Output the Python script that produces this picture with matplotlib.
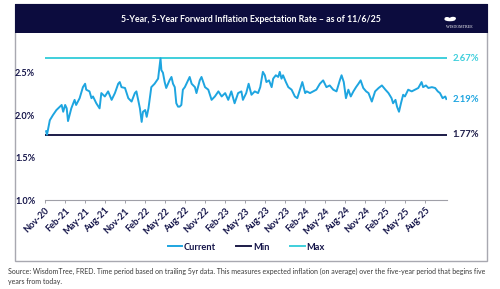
import matplotlib
matplotlib.use("Agg")
import matplotlib.pyplot as plt
from matplotlib.patches import Rectangle, Ellipse
import pandas as pd

plt.rcParams['font.family'] = ['Lato', 'DejaVu Sans']

dates = [
    "2020-11-06", "2020-11-10", "2020-11-14", "2020-11-23", "2020-12-07", "2020-12-23",
    "2021-01-08", "2021-01-16", "2021-01-23", "2021-02-01", "2021-02-08", "2021-02-14",
    "2021-03-01", "2021-03-16", "2021-03-23", "2021-04-08", "2021-04-23", "2021-05-03",
    "2021-05-08", "2021-05-23", "2021-06-01", "2021-06-08", "2021-06-23", "2021-07-08",
    "2021-07-16", "2021-08-01", "2021-08-16", "2021-09-01", "2021-09-16", "2021-10-01",
    "2021-10-08", "2021-10-16", "2021-11-01", "2021-11-16", "2021-12-01", "2021-12-16",
    "2021-12-23", "2022-01-08", "2022-01-16", "2022-01-22", "2022-02-01", "2022-02-08",
    "2022-02-16", "2022-03-01", "2022-03-16", "2022-04-01", "2022-04-12", "2022-04-16",
    "2022-04-23", "2022-05-01", "2022-05-08", "2022-05-23", "2022-06-01", "2022-06-08",
    "2022-06-16", "2022-06-23", "2022-07-01", "2022-07-08", "2022-07-16", "2022-07-23",
    "2022-08-01", "2022-08-16", "2022-08-23", "2022-09-01", "2022-09-16", "2022-09-23",
    "2022-10-08", "2022-10-16", "2022-11-01", "2022-11-16", "2022-12-01", "2022-12-16",
    "2023-01-01", "2023-01-16", "2023-02-01", "2023-02-15", "2023-03-01", "2023-03-16",
    "2023-04-01", "2023-04-16", "2023-04-23", "2023-05-08", "2023-05-19", "2023-06-01",
    "2023-06-16", "2023-07-01", "2023-07-11", "2023-07-23", "2023-08-01", "2023-08-08",
    "2023-08-20", "2023-09-01", "2023-09-08", "2023-09-20", "2023-10-01", "2023-10-08",
    "2023-10-16", "2023-10-23", "2023-11-05", "2023-11-16", "2023-12-01", "2023-12-16",
    "2023-12-27", "2024-01-08", "2024-01-19", "2024-02-01", "2024-02-08", "2024-02-23",
    "2024-03-08", "2024-03-23", "2024-04-08", "2024-04-23", "2024-05-08", "2024-05-23",
    "2024-06-08", "2024-06-23", "2024-07-08", "2024-07-16", "2024-07-26", "2024-08-05",
    "2024-08-16", "2024-08-27", "2024-09-08", "2024-09-20", "2024-10-01", "2024-10-11",
    "2024-10-23", "2024-11-05", "2024-11-16", "2024-12-01", "2024-12-16", "2025-01-01",
    "2025-01-16", "2025-02-01", "2025-02-15", "2025-03-01", "2025-03-08", "2025-03-19",
    "2025-03-26", "2025-04-04", "2025-04-13", "2025-04-23", "2025-05-01", "2025-05-16",
    "2025-06-01", "2025-06-16", "2025-07-01", "2025-07-16", "2025-07-23", "2025-08-05",
    "2025-08-16", "2025-09-01", "2025-09-16", "2025-09-28", "2025-10-08", "2025-10-20",
    "2025-11-01", "2025-11-06",
]
values = [
    1.81, 1.77, 1.82, 1.94, 2.00, 2.06,
    2.10, 2.12, 2.04, 2.12, 2.08, 1.93,
    2.08, 2.18, 2.12, 2.20, 2.33, 2.37,
    2.30, 2.28, 2.20, 2.22, 2.14, 2.08,
    2.26, 2.22, 2.28, 2.18, 2.26, 2.37,
    2.39, 2.33, 2.32, 2.20, 2.16, 2.26,
    2.28, 2.08, 1.92, 2.04, 2.06, 1.98,
    2.08, 2.33, 2.37, 2.43, 2.67, 2.53,
    2.50, 2.39, 2.32, 2.41, 2.45, 2.37,
    2.33, 2.14, 2.10, 2.10, 2.12, 2.30,
    2.33, 2.41, 2.45, 2.37, 2.33, 2.26,
    2.41, 2.45, 2.33, 2.30, 2.18, 2.22,
    2.28, 2.22, 2.26, 2.18, 2.28, 2.14,
    2.26, 2.28, 2.18, 2.26, 2.37, 2.24,
    2.28, 2.26, 2.33, 2.51, 2.47, 2.39,
    2.41, 2.33, 2.43, 2.47, 2.45, 2.51,
    2.43, 2.47, 2.39, 2.33, 2.30, 2.22,
    2.20, 2.30, 2.39, 2.26, 2.28, 2.26,
    2.28, 2.30, 2.37, 2.41, 2.33, 2.35,
    2.30, 2.28, 2.41, 2.47, 2.39, 2.20,
    2.30, 2.22, 2.28, 2.33, 2.37, 2.41,
    2.32, 2.28, 2.26, 2.16, 2.28, 2.32,
    2.35, 2.30, 2.26, 2.20, 2.14, 2.18,
    2.10, 2.04, 2.14, 2.24, 2.22, 2.30,
    2.28, 2.30, 2.32, 2.39, 2.33, 2.35,
    2.32, 2.33, 2.32, 2.28, 2.26, 2.20,
    2.22, 2.19,
]
y_ticks = [1.0, 1.5, 2.0, 2.5]
title = "5-Year, 5-Year Forward Inflation Expectation Rate \u2013 as of 11/6/25"
source = ("Source: WisdomTree, FRED. Time period based on trailing 5yr data. This measures expected "
          "inflation (on average) over the five-year period that begins five\nyears from today.")

NAVY = "#0c0c3e"
C_CUR = "#1ea5e0"
C_MIN = "#1c1b48"
C_MAX = "#3fcfdc"
LABEL = "#15154a"

s = pd.Series(values, index=pd.to_datetime(dates))
vmax, vmin, vcur = s.max(), s.min(), s.iloc[-1]

W, H = 500, 289
fig = plt.figure(figsize=(W / 100, H / 100), dpi=100)
fig.patch.set_facecolor("white")

def fx(px):
    return px / W

def fy(py):
    return 1 - py / H

# outer frame and header
fig.patches.append(Rectangle((fx(15), fy(261)), fx(487) - fx(15), fy(4) - fy(261),
                             transform=fig.transFigure, facecolor="none",
                             edgecolor="#a8a8b0", linewidth=1.0, zorder=-1))
fig.patches.append(Rectangle((fx(15), fy(33)), fx(488) - fx(15), fy(4) - fy(33),
                             transform=fig.transFigure, facecolor=NAVY,
                             edgecolor="none", zorder=1))
fig.text(fx(251), fy(19), title, color="white", fontsize=6.3, fontweight="bold",
         ha="center", va="center")
# logo
for cx, cy, w, h in [(450, 19.5, 11, 3.5), (447, 18.5, 5, 3), (453, 18.3, 6, 3)]:
    fig.patches.append(Ellipse((fx(cx), fy(cy)), fx(w), h / H, transform=fig.transFigure,
                               facecolor="white", edgecolor="none", zorder=2))
fig.text(fx(459), fy(27.5), "WISDOMTREE", color="white", fontsize=2.9,
         family=["Liberation Serif", "DejaVu Serif"], ha="center", va="center")

ax = fig.add_axes([fx(45), fy(200), fx(447) - fx(45), fy(51.5) - fy(200)])
ax.set_facecolor("none")
ax.plot(s.index, s.values, color=C_CUR, lw=1.4, label="Current", zorder=3)
ax.axhline(vmin, color=C_MIN, lw=1.4, label="Min", zorder=2)
ax.axhline(vmax, color=C_MAX, lw=1.4, label="Max", zorder=2)

ax.set_xlim(pd.Timestamp("2020-11-01"), pd.Timestamp("2025-11-09"))
ax.set_ylim(1.0, 2.75)
ax.set_yticks(y_ticks)
ax.set_yticklabels([f"{t:.1f}%" for t in y_ticks])
ticks = list(pd.date_range("2020-11-01", "2025-08-01", freq="3MS"))
ax.set_xticks(ticks)
ax.set_xticklabels([t.strftime("%b-%y") for t in ticks])

for sp in ["top", "right", "left"]:
    ax.spines[sp].set_visible(False)
ax.spines["bottom"].set_color("#a0a0a8")
ax.spines["bottom"].set_linewidth(0.8)
ax.tick_params(axis="y", length=0, pad=7, labelsize=6.6, labelcolor=LABEL)
ax.tick_params(axis="x", length=2.5, width=0.7, color="#a0a0a8", pad=2,
               labelsize=6.7, labelcolor=LABEL)
for lab in ax.get_yticklabels():
    lab.set_fontweight("bold")
for lab in ax.get_xticklabels():
    lab.set_fontweight("bold")
    lab.set_rotation(45)
    lab.set_ha("right")
    lab.set_va("top")
    lab.set_rotation_mode("anchor")

for v, c in [(vmax, C_MAX), (vcur, C_CUR), (vmin, C_MIN)]:
    ax.annotate(f"{v:.2f}%", xy=(1.0, v), xycoords=("axes fraction", "data"),
                xytext=(4, 0), textcoords="offset points", ha="left", va="center",
                color=c, fontsize=6.8, fontweight="bold")

leg = fig.legend(loc="center", bbox_to_anchor=(fx(246), fy(247)), ncol=3, frameon=False,
                 handlelength=1.6, handletextpad=0.15, columnspacing=2.2,
                 prop={"weight": "bold", "size": 6.7})
for t in leg.get_texts():
    t.set_color(LABEL)

fig.text(fx(8), fy(276), source, color="#3a3a3a", fontsize=5.0, ha="left", va="center",
         linespacing=1.5)

fig.savefig("out.png", dpi=100, facecolor="white")
